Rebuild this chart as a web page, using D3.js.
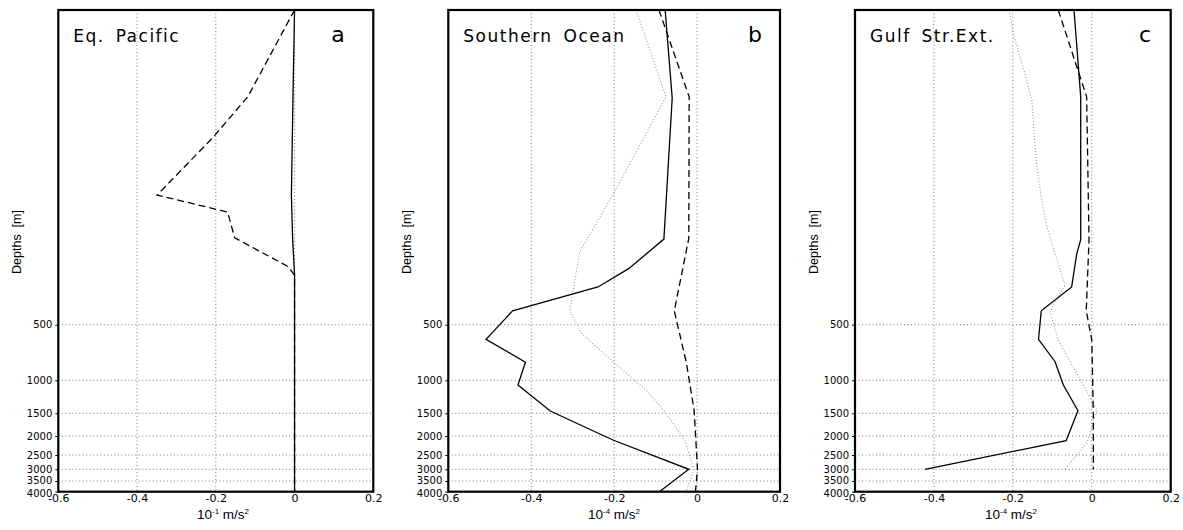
<!DOCTYPE html>
<html>
<head>
<meta charset="UTF-8">
<title>Depth profiles</title>
<script src="https://cdn.jsdelivr.net/npm/d3@7"></script>
<style>
  body { margin: 0; background: #fff; }
  text { font-family: "Liberation Sans", Arial, sans-serif; fill: #000; }
  .title { font-family: "DejaVu Sans", sans-serif; font-size: 17px; letter-spacing: 1.5px; word-spacing: 4px; }
  .letter { font-family: "DejaVu Sans", sans-serif; font-size: 22px; }
  .tick text { font-family: "DejaVu Sans", sans-serif; }
</style>
</head>
<body>
<div id="chart"></div>
<script>
// axes
const xTicks = [-0.6, -0.4, -0.2, 0, 0.2];
const depthTicks = [500, 1000, 1500, 2000, 2500, 3000, 3500, 4000];

// profiles: [value, depth in m]
const pacificSolid  = [[0,0],[-0.004,138],[-0.008,294],[-0.005,362],[0,421],[0,4000]];
const pacificDashed = [[0,0],[-0.119,138],[-0.208,203],[-0.349,294],[-0.170,321],[-0.152,362],[-0.018,407],[0,421],[0,4000]];

const southernSolid  = [[-0.077,0],[-0.060,140],[-0.080,364],[-0.165,411],[-0.239,440],[-0.445,478],[-0.509,631],[-0.414,838],[-0.432,1071],[-0.354,1465],[-0.203,2105],[-0.020,3000],[-0.091,4000]];
const southernDashed = [[-0.092,0],[-0.019,138],[-0.020,363],[-0.055,478],[-0.026,838],[-0.007,1460],[0.001,3000],[-0.004,4000]];
const southernDotted = [[-0.147,0],[-0.075,138],[-0.199,289],[-0.283,384],[-0.307,478],[-0.279,577],[-0.203,833],[-0.123,1147],[-0.075,1500],[-0.030,2105],[-0.008,3000],[-0.026,4000]];

const gulfSolid  = [[-0.045,0],[-0.028,138],[-0.028,365],[-0.038,387],[-0.051,440],[-0.128,478],[-0.135,631],[-0.093,833],[-0.072,1071],[-0.035,1461],[-0.065,2124],[-0.423,3000]];
const gulfDashed = [[-0.085,0],[-0.013,138],[-0.007,365],[-0.014,478],[0,637],[0.004,1500],[0.004,3000]];
const gulfDotted = [[-0.209,0],[-0.199,37],[-0.182,74],[-0.165,111],[-0.152,143],[-0.146,196],[-0.139,249],[-0.127,302],[-0.114,344],[-0.093,387],[-0.068,437],[-0.106,479],[-0.085,637],[0.013,1450],[-0.013,2192],[-0.068,3000]];

const w = 1183, h = 530;
const plotTop = 10, plotBottom = 491.7;

const panels = [
  { title: 'Eq. Pacific', letter: 'a', exp: '-1', left: 58.3, right: 373.3, letterX: 338, unitX: 223,
    series: [{ d: pacificSolid, s: 'solid' }, { d: pacificDashed, s: 'dashed' }] },
  { title: 'Southern Ocean', letter: 'b', exp: '-4', left: 448.3, right: 780, letterX: 755, unitX: 614,
    series: [{ d: southernDotted, s: 'dotted' }, { d: southernSolid, s: 'solid' }, { d: southernDashed, s: 'dashed' }] },
  { title: 'Gulf Str.Ext.', letter: 'c', exp: '-4', left: 855, right: 1170.7, letterX: 1145, unitX: 1011,
    series: [{ d: gulfDotted, s: 'dotted' }, { d: gulfSolid, s: 'solid' }, { d: gulfDashed, s: 'dashed' }] }
];

// depth axis is stretched near the surface (model levels)
const y = d3.scaleLinear()
  .domain([0].concat(depthTicks))
  .range([plotTop, 324.7, 380.3, 413.3, 436, 455, 469.3, 481, plotBottom]);

const styles = {
  solid:  { stroke: '#000', width: 1.3, dash: null },
  dashed: { stroke: '#000', width: 1.3, dash: '7,4' },
  dotted: { stroke: '#999', width: 1.1, dash: '1,2' }
};

const svg = d3.select('#chart').append('svg')
  .attr('width', w).attr('height', h);

panels.forEach(p => {
  const x = d3.scaleLinear().domain([-0.6, 0.2]).range([p.left, p.right]);
  const g = svg.append('g');

  // grid
  g.selectAll('.vgrid').data(xTicks.slice(1, -1)).enter().append('line')
    .attr('x1', d => x(d)).attr('x2', d => x(d))
    .attr('y1', plotTop).attr('y2', plotBottom)
    .attr('stroke', '#777').attr('stroke-width', 1).attr('stroke-dasharray', '1,2.5');
  g.selectAll('.hgrid').data(depthTicks.slice(0, -1)).enter().append('line')
    .attr('x1', p.left).attr('x2', p.right)
    .attr('y1', d => y(d)).attr('y2', d => y(d))
    .attr('stroke', '#777').attr('stroke-width', 1).attr('stroke-dasharray', '1,2.5');

  // profiles
  const line = d3.line().x(d => x(d[0])).y(d => y(d[1]));
  p.series.forEach(s => {
    const st = styles[s.s];
    g.append('path').datum(s.d)
      .attr('d', line)
      .attr('fill', 'none')
      .attr('stroke', st.stroke)
      .attr('stroke-width', st.width)
      .attr('stroke-dasharray', st.dash);
  });

  // axes
  g.append('g')
    .attr('transform', 'translate(0,' + plotBottom + ')')
    .call(d3.axisBottom(x).tickValues(xTicks).tickFormat(d => String(d)).tickSize(0).tickPadding(3))
    .call(a => a.select('.domain').remove())
    .call(a => a.selectAll('.tick text').style('font-size', '11px'));
  g.append('g')
    .attr('transform', 'translate(' + p.left + ',0)')
    .call(d3.axisLeft(y).tickValues(depthTicks).tickFormat(d => String(d)).tickSizeInner(3).tickSizeOuter(0).tickPadding(3))
    .call(a => a.select('.domain').remove())
    .call(a => a.selectAll('.tick text')
      .style('font-size', '10px')
      .attr('dy', d => d === 4000 ? '0.45em' : d === 3500 ? '0.25em' : '0.32em'));

  // frame
  g.append('rect')
    .attr('x', p.left).attr('y', plotTop)
    .attr('width', p.right - p.left).attr('height', plotBottom - plotTop)
    .attr('fill', 'none').attr('stroke', '#000').attr('stroke-width', 2.2);

  // labels
  g.append('text').attr('class', 'title')
    .attr('x', p.left + 15).attr('y', 41.5).text(p.title);
  g.append('text').attr('class', 'letter')
    .attr('x', p.letterX).attr('y', 41.5).attr('text-anchor', 'middle').text(p.letter);

  g.append('text')
    .attr('transform', 'translate(' + (p.left - 37) + ',242) rotate(-90)')
    .attr('text-anchor', 'middle')
    .style('font-size', '12.5px')
    .style('white-space', 'pre')
    .text('Depths  [m]');

  const unit = g.append('text')
    .attr('x', p.unitX).attr('y', 519)
    .attr('text-anchor', 'middle')
    .style('font-size', '13.5px');
  unit.append('tspan').text('10');
  unit.append('tspan').attr('dy', -5).style('font-size', '8px').text(p.exp);
  unit.append('tspan').attr('dy', 5).text(' m/s');
  unit.append('tspan').attr('dy', -5).style('font-size', '8px').text('2');
});
</script>
</body>
</html>
